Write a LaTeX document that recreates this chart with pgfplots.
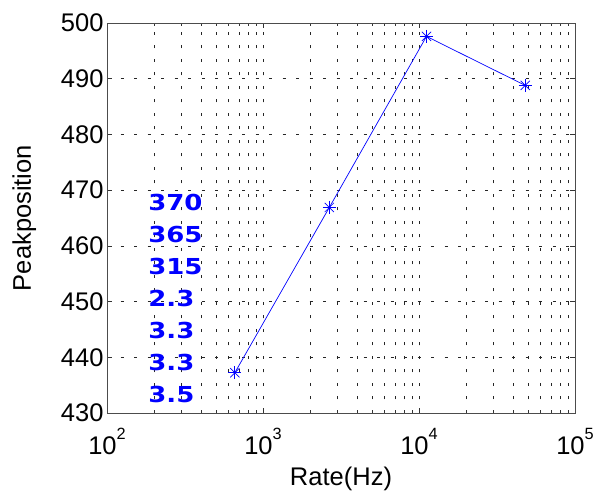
\documentclass[border=0pt]{standalone}
\usepackage{pgfplots}
\pgfplotsset{compat=1.18}
\usepackage{fontspec}
\setmainfont{Liberation Sans}
\newfontfamily\blufont{DejaVu Sans}[FakeStretch=1.18]
\newcommand\fs{\fontsize{25.5}{29}\selectfont}
\newcommand\tenp[1]{10\raisebox{15.3pt}{\fontsize{16.3}{18}\selectfont #1}}
\begin{document}
\begin{tikzpicture}
\useasboundingbox (-107pt,-82pt) rectangle (488pt,413pt);
\begin{axis}[
  at={(0,0)}, anchor=south west,
  scale only axis, width=468pt, height=390pt,
  xmode=log, xmin=100, xmax=100000,
  ymin=430, ymax=500,
  ytick={430,440,...,500},
  xtick={100,1000,10000,100000},
  xticklabels={\tenp{2},\tenp{3},\tenp{4},\tenp{5}},
  /pgf/number format/assume math mode=true,
  tick label style={font=\fs},
  xticklabel style={anchor=base, yshift=-42pt},
  label style={font=\fs},
  xlabel={Rate(Hz)},
  ylabel={Peakposition},
  xlabel style={at={(axis description cs:0.5,0)}, anchor=base, yshift=-73pt},
  ylabel style={at={(axis description cs:-0.177,0.5)}, anchor=center},
  tick align=inside,
  major tick length=5pt, minor tick length=3pt,
  every tick/.style={black!80, line width=0.5pt},
  axis line style={black!70, line width=0.6pt},
  xmajorgrids, xminorgrids, ymajorgrids,
  major grid style={black!85, line width=0.6pt, dash pattern=on 3pt off 10.5pt},
  minor grid style={black!85, line width=0.6pt, dash pattern=on 3pt off 10.5pt},
]
\addplot[blue, line width=0.7pt, mark=+, mark size=6.5pt, mark options={solid, line width=0.7pt}]
  coordinates {(660,437.23) (2662,466.9) (11170,497.6) (47970,488.8)};
\addplot[blue, only marks, mark=x, mark size=6.5pt, mark options={solid, line width=0.7pt}]
  coordinates {(660,437.23) (2662,466.9) (11170,497.6) (47970,488.8)};
\node[anchor=base west, inner sep=0pt, text=blue, font=\blufont\bfseries\fontsize{22}{26}\selectfont] at (axis cs:183.6,466.3) {370};
\node[anchor=base west, inner sep=0pt, text=blue, font=\blufont\bfseries\fontsize{22}{26}\selectfont] at (axis cs:183.6,460.55) {365};
\node[anchor=base west, inner sep=0pt, text=blue, font=\blufont\bfseries\fontsize{22}{26}\selectfont] at (axis cs:183.6,454.8) {315};
\node[anchor=base west, inner sep=0pt, text=blue, font=\blufont\bfseries\fontsize{22}{26}\selectfont] at (axis cs:183.6,449.1) {2.3};
\node[anchor=base west, inner sep=0pt, text=blue, font=\blufont\bfseries\fontsize{22}{26}\selectfont] at (axis cs:183.6,443.3) {3.3};
\node[anchor=base west, inner sep=0pt, text=blue, font=\blufont\bfseries\fontsize{22}{26}\selectfont] at (axis cs:183.6,437.6) {3.3};
\node[anchor=base west, inner sep=0pt, text=blue, font=\blufont\bfseries\fontsize{22}{26}\selectfont] at (axis cs:183.6,431.85) {3.5};
\end{axis}
\end{tikzpicture}
\end{document}
